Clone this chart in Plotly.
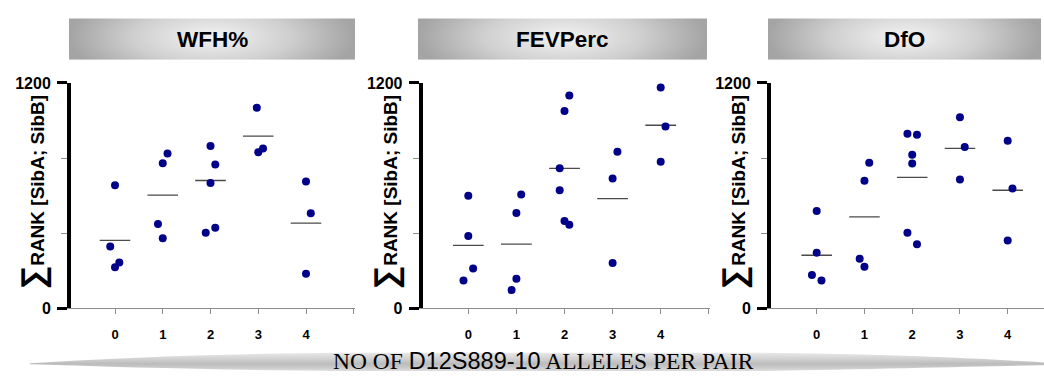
import base64
import plotly.graph_objects as go

# ---- data -----------------------------------------------------------------
CATEGORIES = [0, 1, 2, 3, 4]
TICK_LABELS = ["0", "1", "2", "3", "4"]
PANEL_TITLES = ["WFH%", "FEVPerc", "DfO"]

WFH_VALUES = [[330, 656, 244, 219], [825, 773, 449, 373], [864, 766, 668, 429, 403],
              [1068, 851, 832], [676, 507, 185]]
WFH_MEANS = [362, 603, 681, 917, 454]

FEV_VALUES = [[600, 386, 212, 149], [607, 508, 158, 98], [1134, 1051, 746, 629, 466, 446],
              [834, 691, 242], [1176, 968, 781]]
FEV_MEANS = [336, 342, 746, 585, 975]

DFO_VALUES = [[519, 297, 178, 149], [776, 680, 264, 222], [930, 925, 818, 771, 403, 342],
              [1017, 859, 686], [893, 639, 361]]
DFO_MEANS = [283, 487, 698, 852, 629]

# sideways spread of the dots inside a column, in category units
WFH_SPREAD = [[-0.1, 0, 0.09, 0], [0.1, 0, -0.1, 0], [0, 0.1, 0, 0.1, -0.1], [-0.03, 0.1, 0], [0, 0.1, 0]]
FEV_SPREAD = [[0, 0, 0.1, -0.1], [0.1, 0, 0, -0.1], [0.1, 0, -0.1, -0.1, 0, 0.1], [0.1, 0, 0], [0, 0.1, 0]]
DFO_SPREAD = [[0, 0, -0.1, 0.1], [0.1, 0, -0.1, 0], [-0.1, 0.1, 0, 0, -0.1, 0.1], [0, 0.1, 0], [0, 0.1, 0]]

PANEL_DATA = [
    (WFH_VALUES, WFH_MEANS, WFH_SPREAD),
    (FEV_VALUES, FEV_MEANS, FEV_SPREAD),
    (DFO_VALUES, DFO_MEANS, DFO_SPREAD),
]

# ---- geometry (pixels) ----------------------------------------------------
W, H = 1044, 380
PLOT_TOP, PLOT_BOTTOM = 78.5, 314.5
# left edge, right edge, pixel of category 0, pixels per category
PANEL_BOXES = [(71, 355.2, 115.0, 47.75), (422.7, 710.0, 468.3, 48.1), (771, 1044, 816.7, 47.75)]
HEADER_BOXES = [(69, 355), (418, 707), (768, 1041)]
HEADER_TOP, HEADER_BOTTOM = 11, 54
Y_TITLE_X = [33, 386, 734]
Y_TITLE_Y = 193
HALF_BAR = 0.32

DOT_COLOR = "#000088"
GREY = "#8c8c8c"
SANS = "Liberation Sans, Arial, sans-serif"
SERIF = "Liberation Serif, Times New Roman, serif"


def px_x(p):
    return p / W


def px_y(p):
    return 1 - p / H


# ---- background artwork: gradient title plates and the bottom band --------
svg_parts = [
    f"<svg xmlns='http://www.w3.org/2000/svg' width='{W}' height='{H}' viewBox='0 0 {W} {H}'>",
    "<defs>",
    "<radialGradient id='plate' cx='0.5' cy='0.45' r='0.5' "
    "gradientTransform='translate(0.5 0.45) scale(1 2.4) translate(-0.5 -0.45)'>",
    "<stop offset='0' stop-color='#f3f3f3'/>",
    "<stop offset='0.55' stop-color='#cfcfcf'/>",
    "<stop offset='1' stop-color='#a4a4a4'/>",
    "</radialGradient>",
    "<linearGradient id='band' x1='0' y1='0' x2='0' y2='1'>",
    "<stop offset='0' stop-color='#e8e8e8'/>",
    "<stop offset='0.35' stop-color='#d0d0d0'/>",
    "<stop offset='0.6' stop-color='#bcbcbc'/>",
    "<stop offset='0.8' stop-color='#c9c9c9'/>",
    "<stop offset='1' stop-color='#dedede'/>",
    "</linearGradient>",
    "</defs>",
]
for x0, x1 in HEADER_BOXES:
    svg_parts.append(
        f"<rect x='{x0}' y='{HEADER_TOP}' width='{x1 - x0}' height='{HEADER_BOTTOM - HEADER_TOP}' fill='url(#plate)'/>"
    )
svg_parts.append(
    "<path d='M 30 372 C 120 366, 220 362, 340 361 L 760 361 C 880 362, 980 367, 1044 371 "
    "L 1044 374 C 980 375, 880 378, 760 380 L 340 380 C 220 379, 120 376, 30 373 Z' fill='url(#band)'/>"
)
svg_parts.append("</svg>")
svg_uri = "data:image/svg+xml;base64," + base64.b64encode("".join(svg_parts).encode()).decode()

fig = go.Figure()

for i, (values, means, spread) in enumerate(PANEL_DATA):
    n = i + 1
    xr = "x" if n == 1 else f"x{n}"
    yr = "y" if n == 1 else f"y{n}"

    # group means as short horizontal bars
    mx, my = [], []
    for c, m in zip(CATEGORIES, means):
        mx += [c - HALF_BAR, c + HALF_BAR, None]
        my += [m, m, None]
    fig.add_trace(go.Scatter(
        x=mx, y=my, mode="lines", xaxis=xr, yaxis=yr,
        line=dict(color="#4a4a4a", width=1.3), hoverinfo="skip", showlegend=False,
    ))

    # individual sib-pair dots
    dx, dy = [], []
    for c, vals, offs in zip(CATEGORIES, values, spread):
        for v, o in zip(vals, offs):
            dx.append(c + o)
            dy.append(v)
    fig.add_trace(go.Scatter(
        x=dx, y=dy, mode="markers", xaxis=xr, yaxis=yr, cliponaxis=False,
        marker=dict(color=DOT_COLOR, size=8, line=dict(width=0)), showlegend=False,
    ))

    left, right, c0, step = PANEL_BOXES[i]
    xkey = "xaxis" if n == 1 else f"xaxis{n}"
    ykey = "yaxis" if n == 1 else f"yaxis{n}"
    fig.update_layout(**{
        xkey: dict(
            domain=[px_x(left), px_x(right)],
            range=[(left - c0) / step, (right - c0) / step],
            anchor=yr, showline=True, linecolor=GREY, linewidth=1,
            ticks="outside", ticklen=5, tickwidth=1, tickcolor=GREY,
            tickmode="array", tickvals=[-1] + CATEGORIES + [5],
            ticktext=[""] + TICK_LABELS + [""],
            tickfont=dict(family=SANS, size=13, color="black", weight="bold"),
            ticklabelstandoff=9,
            showgrid=False, zeroline=False, fixedrange=True,
        ),
        ykey: dict(
            domain=[px_y(PLOT_BOTTOM), px_y(PLOT_TOP)],
            range=[0, 1200], anchor=xr,
            showline=True, linecolor="black", linewidth=4,
            ticks="outside", ticklen=10, tickwidth=3, tickcolor="black",
            tickmode="array", tickvals=[0, 1200], ticktext=["0", "1200"],
            minor=dict(tickmode="linear", tick0=0, dtick=400, ticks="outside",
                       ticklen=6, tickwidth=1, tickcolor=GREY, showgrid=False),
            tickfont=dict(family=SANS, size=16, color="black", weight="bold"),
            ticklabelstandoff=3,
            showgrid=False, zeroline=False, fixedrange=True,
        ),
        # second axis carries the inner half of the end caps at 0 and 1200
        f"yaxis{n + 3}": dict(
            overlaying=yr, anchor=xr, side="left", range=[0, 1200],
            showline=False, ticks="inside", ticklen=9, tickwidth=3, tickcolor="black",
            tickmode="array", tickvals=[0, 1200], showticklabels=False,
            showgrid=False, zeroline=False, fixedrange=True,
        ),
    })

annotations = []
for i, title in enumerate(PANEL_TITLES):
    x0, x1 = HEADER_BOXES[i]
    annotations.append(dict(
        xref="paper", yref="paper", x=px_x((x0 + x1) / 2), y=px_y((HEADER_TOP + HEADER_BOTTOM) / 2),
        xanchor="center", yanchor="middle", showarrow=False,
        text=f"<b>{title}</b>", font=dict(family=SANS, size=22.5, color="black"),
    ))
    annotations.append(dict(
        xref="paper", yref="paper", x=px_x(Y_TITLE_X[i]), y=px_y(Y_TITLE_Y),
        xanchor="center", yanchor="middle", showarrow=False, textangle=-90,
        text="<b><span style='font-size:33px'>∑</span>RANK [SibA; SibB]</b>",
        font=dict(family=SANS, size=19, color="black"),
    ))

annotations.append(dict(
    xref="paper", yref="paper", x=px_x(543), y=px_y(370),
    xanchor="center", yanchor="middle", showarrow=False,
    text=f"NO OF <span style='font-family:{SANS}'>D12S889-10</span> ALLELES PER PAIR",
    font=dict(family=SERIF, size=23.5, color="black"),
))

fig.update_layout(
    width=W, height=H,
    margin=dict(l=0, r=0, t=0, b=0),
    paper_bgcolor="white", plot_bgcolor="rgba(0,0,0,0)",
    showlegend=False,
    annotations=annotations,
    images=[dict(
        source=svg_uri, xref="paper", yref="paper", x=0, y=1, sizex=1, sizey=1,
        xanchor="left", yanchor="top", sizing="stretch", layer="below",
    )],
)

fig.write_html("out.html", config={"displayModeBar": False})
